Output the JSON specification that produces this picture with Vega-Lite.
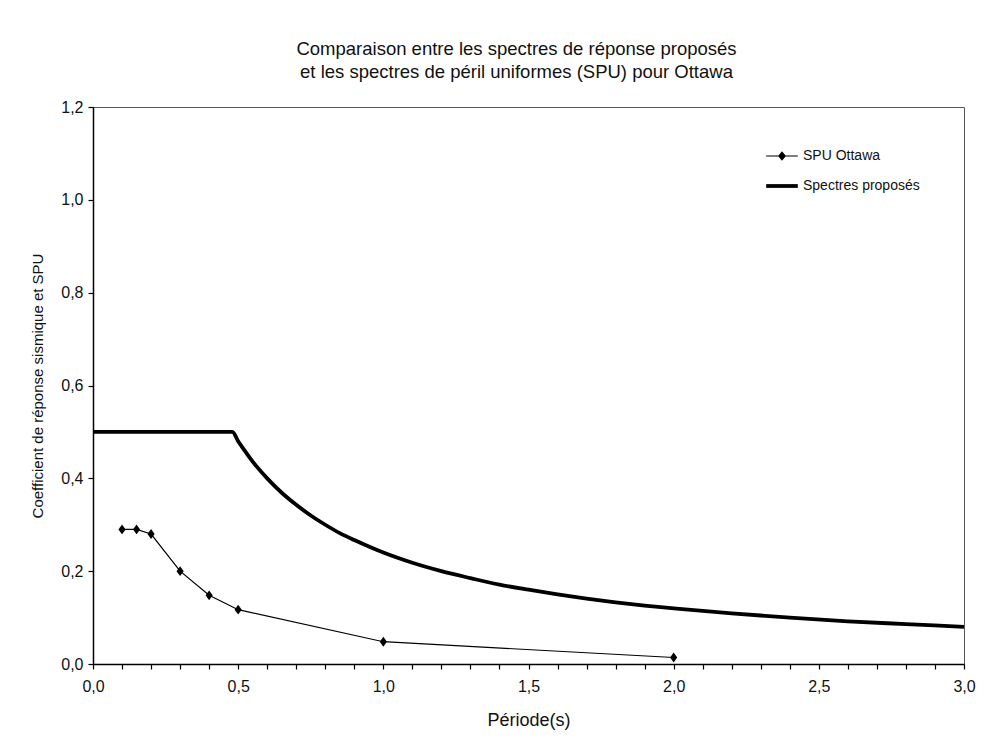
{
  "$schema": "https://vega.github.io/schema/vega-lite/v6.json",
  "autosize": {"type": "none"},
  "width": 871,
  "height": 557,
  "padding": {"left": 93, "top": 107, "right": 44, "bottom": 92},
  "background": "white",
  "title": {
    "text": ["Comparaison entre les spectres de réponse proposés", "et les spectres de péril uniformes (SPU) pour Ottawa"],
    "font": "Liberation Sans",
    "fontSize": 18.5,
    "fontWeight": "normal",
    "color": "#111",
    "anchor": "middle",
    "dx": -12,
    "offset": 18,
    "lineHeight": 23
  },
  "config": {
    "view": {"stroke": "#555", "strokeWidth": 1},
    "axis": {
      "domainColor": "#000",
      "domainWidth": 1.5,
      "tickColor": "#000",
      "tickWidth": 1.2,
      "tickSize": 5,
      "grid": false,
      "labelFont": "Liberation Sans",
      "labelFontSize": 16,
      "labelColor": "#111",
      "titleFont": "Liberation Sans",
      "titleFontSize": 16,
      "titleFontWeight": "normal",
      "titleColor": "#111"
    }
  },
  "data": {
    "values": [
      {"serie": "Spectres proposés", "periode": 0.0, "valeur": 0.5},
      {"serie": "Spectres proposés", "periode": 0.48, "valeur": 0.5},
      {"serie": "Spectres proposés", "periode": 0.5, "valeur": 0.48},
      {"serie": "Spectres proposés", "periode": 0.52, "valeur": 0.462},
      {"serie": "Spectres proposés", "periode": 0.55, "valeur": 0.436},
      {"serie": "Spectres proposés", "periode": 0.6, "valeur": 0.4},
      {"serie": "Spectres proposés", "periode": 0.65, "valeur": 0.369},
      {"serie": "Spectres proposés", "periode": 0.7, "valeur": 0.343},
      {"serie": "Spectres proposés", "periode": 0.75, "valeur": 0.32},
      {"serie": "Spectres proposés", "periode": 0.8, "valeur": 0.3},
      {"serie": "Spectres proposés", "periode": 0.85, "valeur": 0.282},
      {"serie": "Spectres proposés", "periode": 0.9, "valeur": 0.267},
      {"serie": "Spectres proposés", "periode": 0.95, "valeur": 0.253},
      {"serie": "Spectres proposés", "periode": 1.0, "valeur": 0.24},
      {"serie": "Spectres proposés", "periode": 1.1, "valeur": 0.218},
      {"serie": "Spectres proposés", "periode": 1.2, "valeur": 0.2},
      {"serie": "Spectres proposés", "periode": 1.3, "valeur": 0.185},
      {"serie": "Spectres proposés", "periode": 1.4, "valeur": 0.171},
      {"serie": "Spectres proposés", "periode": 1.5, "valeur": 0.16},
      {"serie": "Spectres proposés", "periode": 1.6, "valeur": 0.15},
      {"serie": "Spectres proposés", "periode": 1.7, "valeur": 0.141},
      {"serie": "Spectres proposés", "periode": 1.8, "valeur": 0.133},
      {"serie": "Spectres proposés", "periode": 1.9, "valeur": 0.126},
      {"serie": "Spectres proposés", "periode": 2.0, "valeur": 0.12},
      {"serie": "Spectres proposés", "periode": 2.2, "valeur": 0.109},
      {"serie": "Spectres proposés", "periode": 2.4, "valeur": 0.1},
      {"serie": "Spectres proposés", "periode": 2.6, "valeur": 0.092},
      {"serie": "Spectres proposés", "periode": 2.8, "valeur": 0.086},
      {"serie": "Spectres proposés", "periode": 3.0, "valeur": 0.08},
      {"serie": "SPU Ottawa", "periode": 0.1, "valeur": 0.29},
      {"serie": "SPU Ottawa", "periode": 0.15, "valeur": 0.29},
      {"serie": "SPU Ottawa", "periode": 0.2, "valeur": 0.28},
      {"serie": "SPU Ottawa", "periode": 0.3, "valeur": 0.2},
      {"serie": "SPU Ottawa", "periode": 0.4, "valeur": 0.148},
      {"serie": "SPU Ottawa", "periode": 0.5, "valeur": 0.117},
      {"serie": "SPU Ottawa", "periode": 1.0, "valeur": 0.048},
      {"serie": "SPU Ottawa", "periode": 2.0, "valeur": 0.014}
    ]
  },
  "encoding": {
    "x": {
      "field": "periode",
      "type": "quantitative",
      "scale": {"domain": [0, 3], "nice": false, "zero": false},
      "axis": {
        "title": "Période(s)",
        "titleFontSize": 18,
        "values": [0, 0.1, 0.2, 0.3, 0.4, 0.5, 0.6, 0.7, 0.8, 0.9, 1.0, 1.1, 1.2, 1.3, 1.4, 1.5, 1.6, 1.7, 1.8, 1.9, 2.0, 2.1, 2.2, 2.3, 2.4, 2.5, 2.6, 2.7, 2.8, 2.9, 3.0],
        "labelExpr": "abs(datum.value*2 - round(datum.value*2)) < 0.01 ? replace(format(datum.value, '.1f'), '.', ',') : ''",
        "labelPadding": 9,
        "titlePadding": 17,
        "labelFlush": false,
        "labelOverlap": false
      }
    },
    "y": {
      "field": "valeur",
      "type": "quantitative",
      "scale": {"domain": [0, 1.2], "nice": false},
      "axis": {
        "title": "Coefficient de réponse sismique et SPU",
        "titleFontSize": 15,
        "values": [0, 0.2, 0.4, 0.6, 0.8, 1.0, 1.2],
        "labelExpr": "replace(format(datum.value, '.1f'), '.', ',')",
        "labelPadding": 5,
        "titlePadding": 15,
        "labelFlush": false,
        "labelOverlap": false
      }
    }
  },
  "layer": [
    {
      "transform": [{"filter": "datum.serie === 'Spectres proposés'"}],
      "mark": {"type": "line", "color": "#000", "strokeWidth": 3.8, "strokeJoin": "round", "interpolate": "monotone"}
    },
    {
      "transform": [{"filter": "datum.serie === 'SPU Ottawa'"}],
      "mark": {"type": "line", "color": "#000", "strokeWidth": 1.2}
    },
    {
      "transform": [{"filter": "datum.serie === 'SPU Ottawa'"}],
      "mark": {"type": "point", "shape": "M-0.8,0L0,-1.1L0.8,0L0,1.1Z", "filled": true, "color": "#000", "size": 80, "opacity": 1}
    },
    {
      "mark": {"type": "point", "filled": true, "color": "#000", "opacity": 0, "size": 10},
      "encoding": {
        "shape": {
          "field": "serie",
          "type": "nominal",
          "scale": {
            "domain": ["SPU Ottawa", "Spectres proposés"],
            "range": [
              "M-1,-0.035L1,-0.035L1,0.035L-1,0.035Z M-0.25,0L0,-0.3L0.25,0L0,0.3Z",
              "M-1,-0.12L1,-0.12L1,0.12L-1,0.12Z"
            ]
          },
          "legend": {
            "title": null,
            "orient": "none",
            "legendX": 673,
            "legendY": 33,
            "symbolSize": 1000,
            "symbolOpacity": 1,
            "symbolFillColor": "#000",
            "symbolStrokeColor": "#000",
            "symbolStrokeWidth": 0,
            "labelFont": "Liberation Sans",
            "labelFontSize": 14,
            "labelColor": "#111",
            "labelOffset": 5,
            "rowPadding": 7,
            "padding": 0
          }
        }
      }
    }
  ]
}
